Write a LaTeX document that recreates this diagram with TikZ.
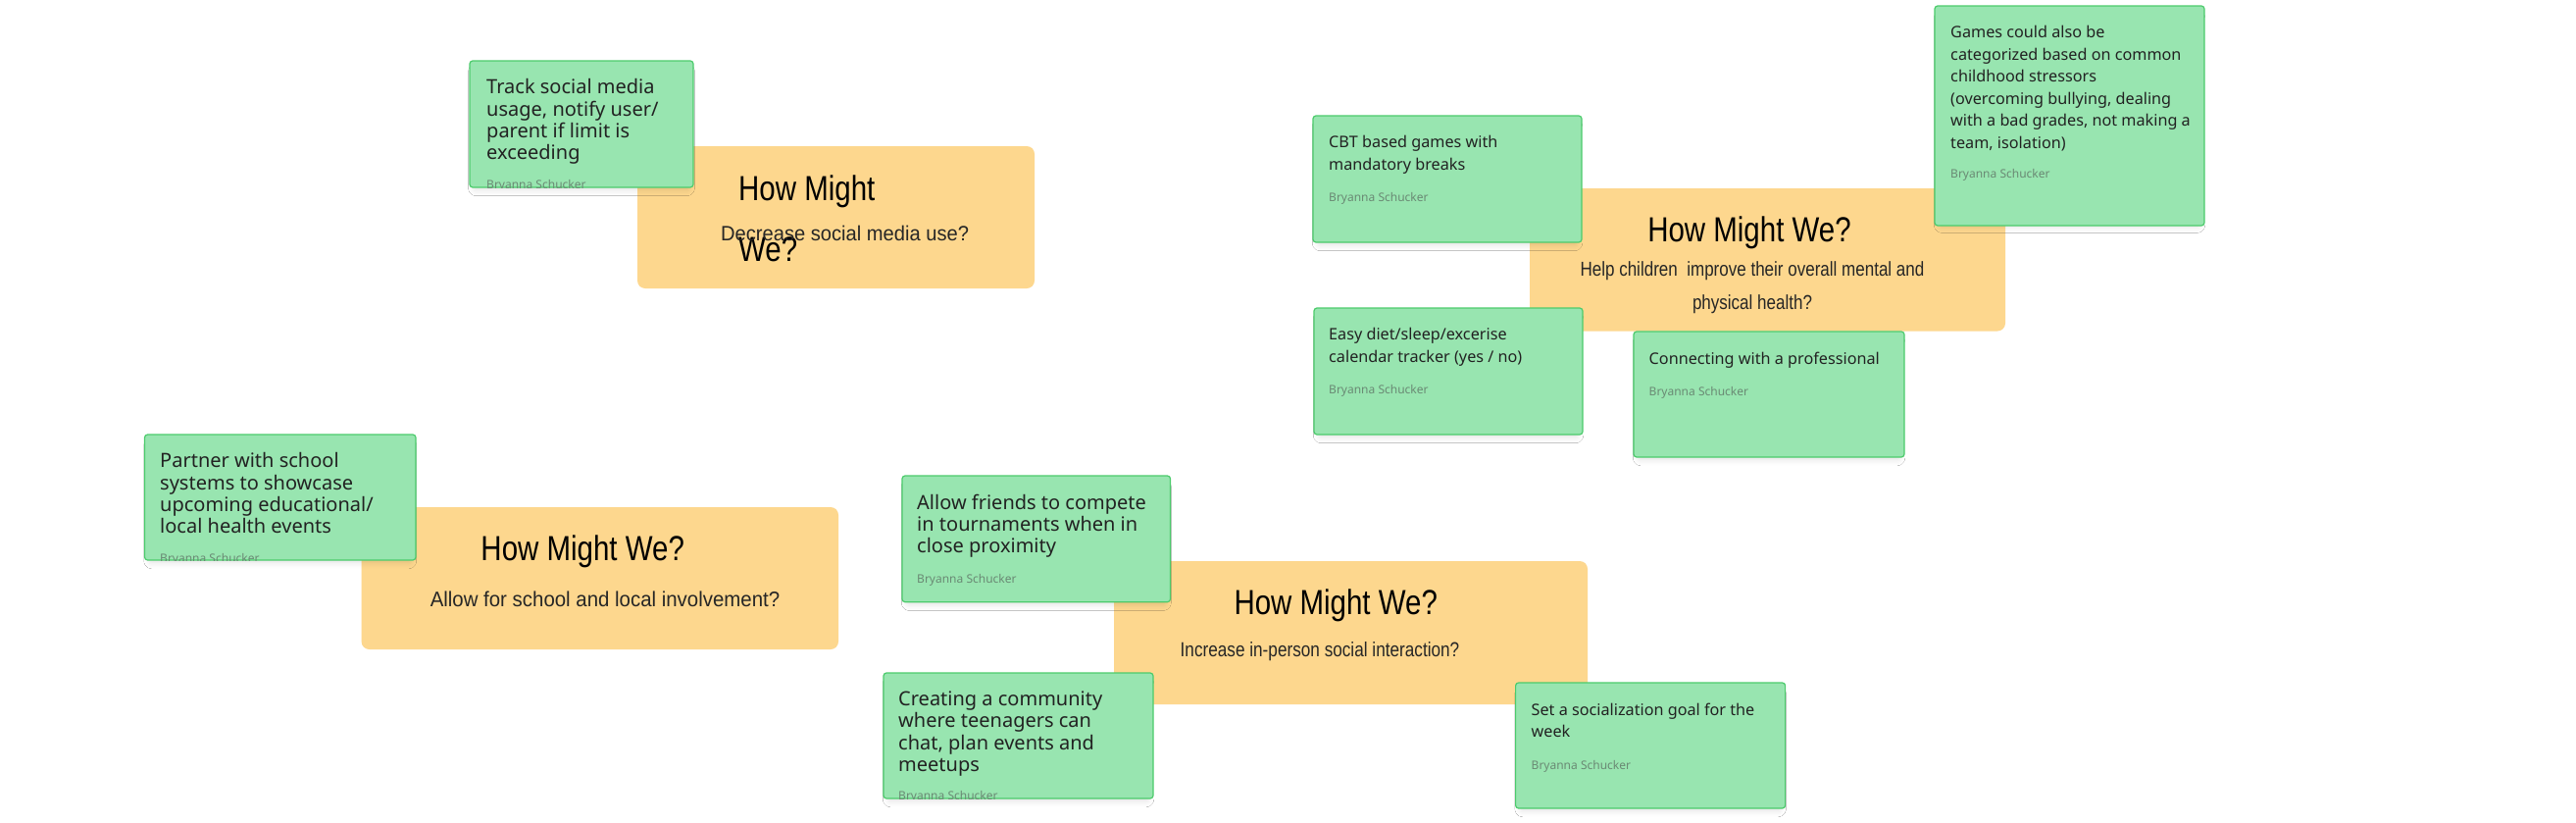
\documentclass[tikz,border=0pt]{standalone}
\usepackage{fontspec}
\usetikzlibrary{shadows.blur}
\setmainfont{Noto Sans}
\newfontfamily\hmwfont[FakeStretch=0.83]{Liberation Sans}
\newfontfamily\hmwwide[FakeStretch=0.95]{Liberation Sans}
\newfontfamily\notefamily{Noto Sans}
\definecolor{notefill}{HTML}{98E5B0}
\definecolor{noteline}{HTML}{4CCB6C}
\definecolor{hmwfill}{HTML}{FDD78E}
\definecolor{inktext}{HTML}{222222}
\definecolor{authorink}{HTML}{6A8A74}
\tikzset{
  notebox/.style={draw=noteline, line width=1.2bp, fill=notefill, rounded corners=3bp,
    inner sep=0, outer sep=0, anchor=north west,
    blur shadow={shadow xshift=0bp, shadow yshift=-6bp, shadow scale=0.97,
      shadow blur radius=5bp, shadow opacity=9}},
  hmwbox/.style={fill=hmwfill, rounded corners=8bp, inner sep=0, outer sep=0, anchor=north west},
  notebig/.style={anchor=north west, inner sep=0, align=left, text=inktext,
    font=\notefamily\fontsize{20bp}{22.3bp}\selectfont},
  notesmall/.style={anchor=north west, inner sep=0, align=left, text=inktext,
    font=\notefamily\fontsize{16.2bp}{22.5bp}\selectfont},
  author/.style={anchor=base west, inner sep=0, text=authorink,
    font=\notefamily\fontsize{12bp}{14bp}\selectfont},
  hmwtitle/.style={anchor=base, inner sep=0, text=black,
    font=\hmwfont\fontsize{35.5bp}{40bp}\selectfont},
  hmwsub/.style={anchor=base, inner sep=0, text=black!85,
    font=\hmwfont\fontsize{20.5bp}{33.3bp}\selectfont},
}
\begin{document}
\begin{tikzpicture}[x=1bp, y={(0bp,-1bp)}]
\fill[white] (0,0) rectangle (2627,839);
\useasboundingbox (0,0) rectangle (2627,839);

% ---------- How Might We boxes ----------
\node[hmwbox, minimum width=405bp, minimum height=145bp] (hA) at (650,149) {};
\node[hmwbox, minimum width=485bp, minimum height=145.5bp] (hB) at (1560,192) {};
\node[hmwbox, minimum width=486.4bp, minimum height=145bp] (hC) at (368.6,517) {};
\node[hmwbox, minimum width=483bp, minimum height=146bp] (hD) at (1136,572) {};

\node[hmwtitle, anchor=north west, align=left, font=\hmwfont\fontsize{35.5bp}{62bp}\selectfont]
  (tA) at (753,160.6) {\strut How Might\\We?};
\node[hmwsub, font=\hmwwide\fontsize{21.2bp}{26bp}\selectfont] (sA) at (861.6,245) {Decrease social media use?};

\node[hmwtitle] (tB) at (1784,246.7) {How Might We?};
\node[hmwsub, anchor=north, align=center] (sB) at (1787,258.4)
  {\strut Help children\ \ improve their overall mental and\\physical health?};

\node[hmwtitle] (tC) at (594.2,571.7) {How Might We?};
\node[hmwsub, font=\hmwwide\fontsize{21.5bp}{26bp}\selectfont] (sC) at (617,618.3) {Allow for school and local involvement?};

\node[hmwtitle] (tD) at (1362.2,626.7) {How Might We?};
\node[hmwsub, font=\hmwfont\fontsize{20.7bp}{26bp}\selectfont] (sD) at (1346,669.3) {Increase in-person social interaction?};

% ---------- sticky notes ----------
\node[notebox, minimum width=228bp, minimum height=129bp] (n1) at (479,62) {};
\node[notebig] (n1t) at (496,80.1) {\strut Track social media\\usage, notify user/\\parent if limit is\\exceeding};
\begin{scope}
  \clip (n1.north west) rectangle (n1.south east);
  \node[author] (n1a) at (496,192.7) {Bryanna Schucker};
\end{scope}

\node[notebox, minimum width=274bp, minimum height=129bp] (n2) at (1339,118) {};
\node[notesmall] (n2t) at (1355,134.95) {\strut CBT based games with\\mandatory breaks};
\node[author] (n2a) at (1355,205.7) {Bryanna Schucker};

\node[notebox, minimum width=275bp, minimum height=224bp] (n3) at (1973,6) {};
\node[notesmall] (n3t) at (1989,22.55) {\strut Games could also be\\categorized based on common\\childhood stressors\\(overcoming bullying, dealing\\with a bad grades, not making a\\team, isolation)};
\node[author] (n3a) at (1989,181.7) {Bryanna Schucker};

\node[notebox, minimum width=274bp, minimum height=129bp] (n4) at (1340,314) {};
\node[notesmall] (n4t) at (1355,330.95) {\strut Easy diet/sleep/excerise\\calendar tracker (yes / no)};
\node[author] (n4a) at (1355,401.7) {Bryanna Schucker};

\node[notebox, minimum width=276bp, minimum height=128bp] (n5) at (1666,338) {};
\node[notesmall] (n5t) at (1681.5,355.25) {\strut Connecting with a professional};
\node[author] (n5a) at (1681.5,403.3) {Bryanna Schucker};

\node[notebox, minimum width=276.5bp, minimum height=128bp] (n6) at (147.5,443) {};
\node[notebig] (n6t) at (163,461.1) {\strut Partner with school\\systems to showcase\\upcoming educational/\\local health events};
\begin{scope}
  \clip (n6.north west) rectangle (n6.south east);
  \node[author] (n6a) at (163,573) {Bryanna Schucker};
\end{scope}

\node[notebox, minimum width=273.5bp, minimum height=128.7bp] (n7) at (920,485) {};
\node[notebig] (n7t) at (935,503.4) {\strut Allow friends to compete\\in tournaments when in\\close proximity};
\node[author] (n7a) at (935,594) {Bryanna Schucker};

\node[notebox, minimum width=275bp, minimum height=128bp] (n8) at (901,686) {};
\node[notebig] (n8t) at (916,703.7) {\strut Creating a community\\where teenagers can\\chat, plan events and\\meetups};
\begin{scope}
  \clip (n8.north west) rectangle (n8.south east);
  \node[author] (n8a) at (916,815.7) {Bryanna Schucker};
\end{scope}

\node[notebox, minimum width=275bp, minimum height=128bp] (n9) at (1545.6,696) {};
\node[notesmall] (n9t) at (1561.5,713.25) {\strut Set a socialization goal for the\\week};
\node[author] (n9a) at (1561.5,784) {Bryanna Schucker};
\end{tikzpicture}
\end{document}
